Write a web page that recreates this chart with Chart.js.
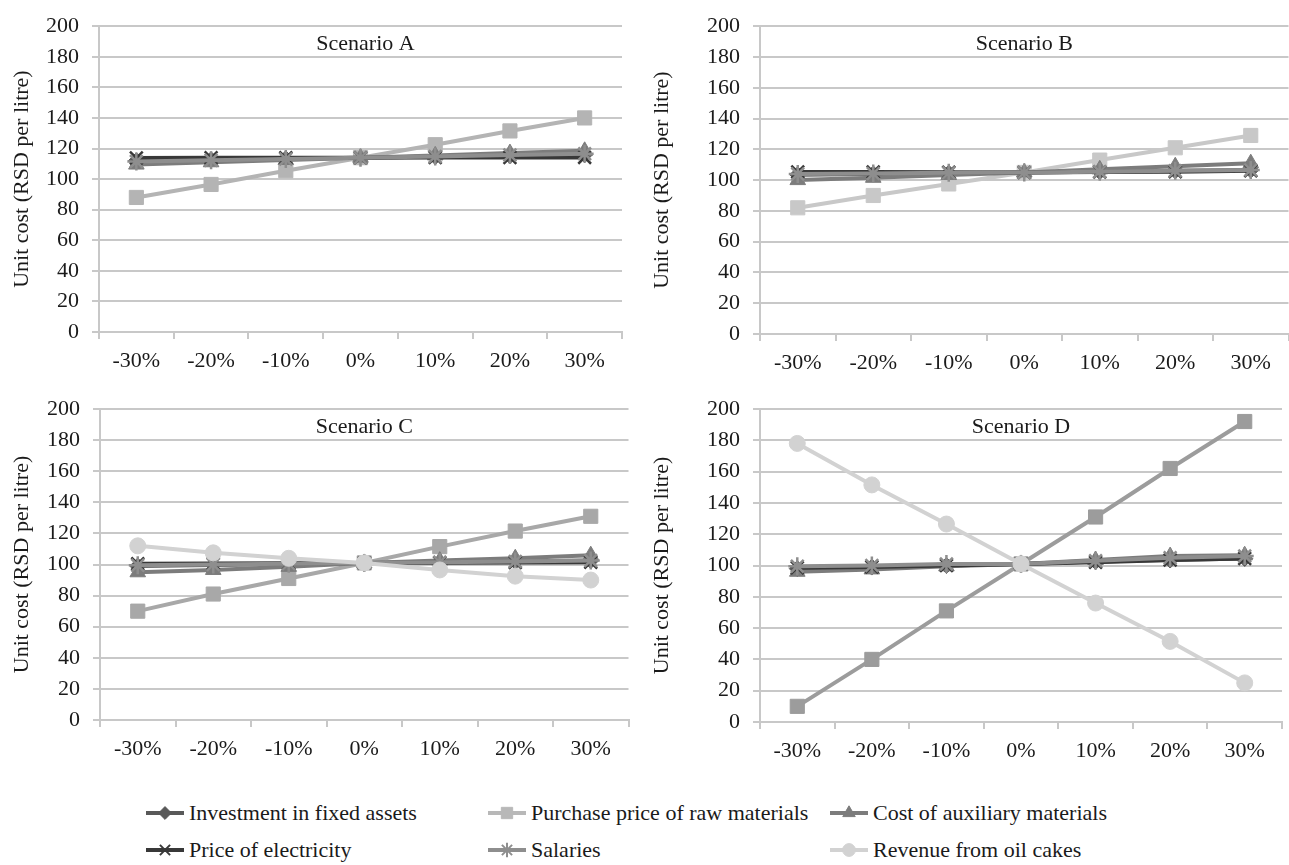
<!DOCTYPE html>
<html lang="en">

<head>
    <meta charset="UTF-8" />
    <title>Unit cost sensitivity - Scenarios A to D</title>
    <script src="https://cdn.jsdelivr.net/npm/chart.js"></script>
    <style>
        body {
            margin: 0;
            width: 1289px;
            height: 865px;
            overflow: hidden;
            position: relative;
            background: #fff;
            font-family: "Liberation Serif", "DejaVu Serif", serif;
        }

        .panel {
            position: absolute;
        }

        .item {
            position: absolute;
            height: 24px;
            display: flex;
            align-items: center;
            font-size: 22px;
            color: #1a1a1a;
            white-space: nowrap;
        }

        .item canvas {
            margin-right: 3px;
        }
    </style>
</head>

<body>
    <div class="panel" style="left:0px; top:0px;"><canvas id="chartA" width="640" height="380"></canvas></div>
    <div class="panel" style="left:640px; top:0px;"><canvas id="chartB" width="660" height="380"></canvas></div>
    <div class="panel" style="left:0px; top:380px;"><canvas id="chartC" width="640" height="400"></canvas></div>
    <div class="panel" style="left:640px; top:380px;"><canvas id="chartD" width="660" height="400"></canvas></div>
    <div id="legenda"></div>

    <script>
        // categorias e nomes das séries
        const categories = ['-30%', '-20%', '-10%', '0%', '10%', '20%', '30%'];
        const seriesNames = ['Investment in fixed assets', 'Purchase price of raw materials', 'Cost of auxiliary materials',
            'Price of electricity', 'Salaries', 'Revenue from oil cakes'];
        const yMin = 0, yMax = 200, yStep = 20;

        // Scenario A
        const aInvestment = [112, 112.7, 113.3, 114, 114.7, 115.3, 116];
        const aPurchase = [88, 96.5, 105.5, 114, 122.5, 131.5, 140];
        const aAuxiliary = [109.5, 111, 112.5, 114, 115.5, 117, 118.5];
        const aElectricity = [113.8, 113.9, 113.9, 114, 114.1, 114.1, 114.2];
        const aSalaries = [111.5, 112.3, 113.2, 114, 114.8, 115.7, 116.5];

        // Scenario B
        const bInvestment = [103.5, 104, 104.5, 105, 105.5, 106, 106.5];
        const bPurchase = [82, 90, 97.5, 105, 113, 121, 129];
        const bAuxiliary = [100, 101.5, 103.3, 105, 107, 109, 111];
        const bElectricity = [105.3, 105.2, 105.1, 105, 105.2, 105.5, 106];
        const bSalaries = [104, 104.3, 104.7, 105, 105.5, 106, 106.5];

        // Scenario C
        const cInvestment = [99, 99.7, 100.3, 101, 101.5, 102, 102.5];
        const cPurchase = [70, 81, 91, 101, 111.5, 121.5, 131];
        const cAuxiliary = [95, 96.5, 98.5, 101, 102.5, 104, 106];
        const cElectricity = [100.5, 100.6, 100.8, 101, 101.2, 101.3, 101.5];
        const cSalaries = [99.5, 100, 100.5, 101, 101.5, 102, 102.5];
        const cRevenue = [112, 107.5, 104, 101, 96.5, 92.5, 90];

        // Scenario D
        const dInvestment = [98, 99, 100, 101, 102.5, 103.5, 104.5];
        const dPurchase = [10, 40, 71, 101, 131, 162, 192];
        const dAuxiliary = [96, 97.5, 99.5, 101, 103.5, 106, 106.5];
        const dElectricity = [98.5, 99, 100, 101, 102, 103.5, 104.5];
        const dSalaries = [99.5, 100, 101, 101, 103, 105, 106];
        const dRevenue = [178, 151.5, 126.5, 101, 76, 51.5, 25];

        // estilo de cada série (cor, marcador)
        const estilos = [
            { color: '#595959', pointStyle: 'rectRot', radius: 8 },
            { color: '#b8b8b8', pointStyle: 'rect', radius: 10 },
            { color: '#7c7c7c', pointStyle: 'triangle', radius: 9 },
            { color: '#383838', pointStyle: 'crossRot', radius: 9 },
            { color: '#8e8e8e', pointStyle: 'star', radius: 9 },
            { color: '#d2d2d2', pointStyle: 'circle', radius: 8 }
        ];

        const fonte = { family: '"Liberation Serif", "DejaVu Serif", serif', size: 22 };
        const corTexto = '#1a1a1a';
        const corGrade = '#c8c8c8';

        // título "Scenario X" dentro da área do gráfico
        const tituloCenario = {
            id: 'tituloCenario',
            afterDraw(chart, args, opts) {
                const ctx = chart.ctx;
                const area = chart.chartArea;
                ctx.save();
                ctx.font = fonte.size + 'px ' + fonte.family;
                ctx.fillStyle = corTexto;
                ctx.textAlign = 'center';
                ctx.textBaseline = 'middle';
                ctx.fillText(opts.text, (area.left + area.right) / 2 + (opts.dx || 0), area.top + 18);
                ctx.restore();
            }
        };

        function montarDatasets(valores, corCompra) {
            let datasets = [];
            for (let i = 0; i < valores.length; i++) {
                if (!valores[i]) continue;
                let est = estilos[i];
                let cor = (i == 1 && corCompra) ? corCompra : est.color;
                let soLinha = (est.pointStyle == 'crossRot' || est.pointStyle == 'star');
                datasets.push({
                    label: seriesNames[i],
                    data: valores[i],
                    borderColor: cor,
                    backgroundColor: cor,
                    borderWidth: 4,
                    pointStyle: est.pointStyle,
                    pointRadius: est.radius,
                    pointBackgroundColor: cor,
                    pointBorderColor: cor,
                    pointBorderWidth: soLinha ? 2.5 : 1,
                    tension: 0,
                    fill: false,
                    order: valores.length - i
                });
            }
            return datasets;
        }

        function plotarPainel(id, titulo, valores, corCompra, caixa) {
            const config = {
                type: 'line',
                data: { labels: categories, datasets: montarDatasets(valores, corCompra) },
                options: {
                    responsive: false,
                    animation: false,
                    layout: { padding: { left: 0, top: caixa.top, right: caixa.w - caixa.right, bottom: 0 } },
                    plugins: {
                        legend: { display: false },
                        tooltip: { enabled: false },
                        tituloCenario: { text: titulo, dx: caixa.dx || 0 }
                    },
                    scales: {
                        x: {
                            offset: true,
                            ticks: { color: corTexto, font: fonte, padding: 9, maxRotation: 0 },
                            grid: { drawOnChartArea: false, drawTicks: true, tickLength: 7, offset: true, color: corGrade, lineWidth: 2 },
                            border: { display: true, color: corGrade, width: 2 },
                            afterFit: function (s) { s.height = caixa.h - caixa.bottom; }
                        },
                        y: {
                            min: yMin,
                            max: yMax,
                            ticks: { stepSize: yStep, color: corTexto, font: fonte, padding: 13 },
                            grid: { color: corGrade, lineWidth: 2, tickLength: 7 },
                            border: { display: true, color: corGrade, width: 2 },
                            title: { display: true, text: 'Unit cost (RSD per litre)', color: corTexto, font: fonte, padding: { top: 9, bottom: 0 } },
                            afterFit: function (s) { s.width = caixa.left; }
                        }
                    }
                },
                plugins: [tituloCenario]
            };
            return new Chart(document.getElementById(id), config);
        }

        plotarPainel('chartA', 'Scenario A', [aInvestment, aPurchase, aAuxiliary, aElectricity, aSalaries, null], '#b4b4b4',
            { w: 640, h: 380, left: 99, right: 622, top: 19, bottom: 332, dx: 5 });
        plotarPainel('chartB', 'Scenario B', [bInvestment, bPurchase, bAuxiliary, bElectricity, bSalaries, null], '#c8c8c8',
            { w: 660, h: 380, left: 120, right: 653, top: 21, bottom: 334 });
        plotarPainel('chartC', 'Scenario C', [cInvestment, cPurchase, cAuxiliary, cElectricity, cSalaries, cRevenue], '#a8a8a8',
            { w: 640, h: 400, left: 100, right: 632, top: 29, bottom: 340 });
        plotarPainel('chartD', 'Scenario D', [dInvestment, dPurchase, dAuxiliary, dElectricity, dSalaries, dRevenue], '#9c9c9c',
            { w: 660, h: 400, left: 120, right: 642, top: 29, bottom: 342 });

        // legenda em HTML (3 colunas, 2 linhas)
        const colunasX = [144, 486, 828];
        const linhasY = [813, 850];
        const legenda = document.getElementById('legenda');
        for (let i = 0; i < seriesNames.length; i++) {
            let item = document.createElement('div');
            item.className = 'item';
            item.style.left = colunasX[i % 3] + 'px';
            item.style.top = (linhasY[Math.floor(i / 3)] - 12) + 'px';
            let cv = document.createElement('canvas');
            cv.width = 42;
            cv.height = 24;
            let est = estilos[i];
            let ctx = cv.getContext('2d');
            ctx.strokeStyle = est.color;
            ctx.fillStyle = est.color;
            ctx.lineWidth = 4;
            ctx.beginPath();
            ctx.moveTo(2, 12);
            ctx.lineTo(40, 12);
            ctx.stroke();
            ctx.lineWidth = (est.pointStyle == 'crossRot' || est.pointStyle == 'star') ? 2 : 1;
            Chart.helpers.drawPoint(ctx, { pointStyle: est.pointStyle, radius: est.radius * 0.8, rotation: 0, borderWidth: ctx.lineWidth }, 21, 12);
            let span = document.createElement('span');
            span.textContent = seriesNames[i];
            item.appendChild(cv);
            item.appendChild(span);
            legenda.appendChild(item);
        }
    </script>
</body>

</html>
